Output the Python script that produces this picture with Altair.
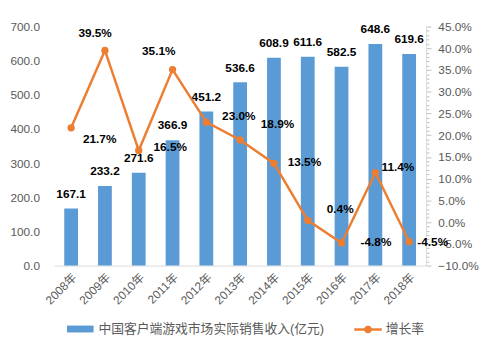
import altair as alt
import pandas as pd

years = ["2008年", "2009年", "2010年", "2011年", "2012年", "2013年",
         "2014年", "2015年", "2016年", "2017年", "2018年"]
revenue = [167.1, 233.2, 271.6, 366.9, 451.2, 536.6, 608.9, 611.6, 582.5, 648.6, 619.6]
growth = [21.7, 39.5, 16.5, 35.1, 23.0, 18.9, 13.5, 0.4, -4.8, 11.4, -4.5]

# label offsets (pixels) for the growth-rate labels, as placed in the original
pct_dx = [29, -10, 32, -14, 33, 38, 31, 33, 35, 23, 24]
pct_dy = [11, -18, -3, -19, -6, -16, -1, -11, -1, -6, 0]

bar_name = "中国客户端游戏市场实际销售收入(亿元)"
line_name = "增长率"

BLUE = "#5B9BD5"
ORANGE = "#ED7D31"
GRAY = "#595959"
FONT = "Liberation Sans, Noto Sans CJK SC"

W, H = 378, 243

df = pd.DataFrame({"year": years, "revenue": revenue, "growth": growth})
df["pct_label"] = [f"{g:.1f}%" for g in growth]
df["rev_label"] = [f"{r:.1f}" for r in revenue]

x = alt.X("year:N", sort=years, title=None,
          scale=alt.Scale(paddingInner=0, paddingOuter=0),
          axis=alt.Axis(labelAngle=-45, labelFontSize=12, labelColor=GRAY,
                        labelFont=FONT, ticks=False, domainColor="#D9D9D9",
                        labelPadding=6))

y_left = alt.Y("revenue:Q", title=None,
               scale=alt.Scale(domain=[0, 700], nice=False),
               axis=alt.Axis(values=[0, 100, 200, 300, 400, 500, 600, 700],
                             format=".1f", grid=False, domain=False, ticks=False,
                             labelPadding=15, labelFontSize=12, labelColor=GRAY,
                             labelFont=FONT))

bars = alt.Chart(df).mark_bar(size=14, color=BLUE).encode(x=x, y=y_left)
bar_text = alt.Chart(df).mark_text(fontWeight="bold", fontSize=12, font=FONT,
                                   color="#000000", dy=-15, baseline="middle").encode(
    x=x, y=y_left, text="rev_label:N")

bar_layer = alt.layer(bars, bar_text)

y_right = alt.Y("growth:Q", title=None,
                scale=alt.Scale(domain=[-10, 45], nice=False),
                axis=alt.Axis(orient="right", values=list(range(-10, 46)),
                              labelExpr="datum.value % 5 === 0 ? format(datum.value, '.1f') + '%' : ''",
                              labelOverlap=False, grid=False,
                              tickSize={"condition": {"test": "datum.value % 5 === 0", "value": 5}, "value": 3},
                              tickColor="#BFBFBF", domainColor="#D9D9D9",
                              labelPadding=7, labelFontSize=12, labelColor=GRAY,
                              labelFont=FONT))

line = alt.Chart(df).mark_line(color=ORANGE, strokeWidth=2.5).encode(x=x, y=y_right)
pts = alt.Chart(df).mark_point(filled=True, color=ORANGE, size=55, opacity=1).encode(
    x=x, y=y_right)

pct_texts = []
for yr, dx, dy in zip(years, pct_dx, pct_dy):
    pct_texts.append(
        alt.Chart(df).transform_filter(alt.datum.year == yr).mark_text(
            fontWeight="bold", fontSize=12, font=FONT, color="#000000",
            dx=dx, dy=dy, baseline="middle", align="center").encode(
            x=x, y=y_right, text="pct_label:N"))

line_layer = alt.layer(line, pts, *pct_texts)

# manual legend
one = alt.Data(values=[{"k": 1}])
leg_rect = alt.Chart(one).mark_rect(color=BLUE).encode(
    x=alt.value(13), x2=alt.value(40), y=alt.value(304), y2=alt.value(311))
leg_text1 = alt.Chart(one).mark_text(align="left", baseline="middle", fontSize=13,
                                     font=FONT, color=GRAY).encode(
    x=alt.value(45), y=alt.value(308), text=alt.value(bar_name))
leg_line = alt.Chart(one).mark_rule(color=ORANGE, strokeWidth=2.5).encode(
    x=alt.value(305), x2=alt.value(333), y=alt.value(308))
leg_pt = alt.Chart(one).mark_point(filled=True, color=ORANGE, size=55, opacity=1).encode(
    x=alt.value(319), y=alt.value(308))
leg_text2 = alt.Chart(one).mark_text(align="left", baseline="middle", fontSize=13,
                                     font=FONT, color=GRAY).encode(
    x=alt.value(337), y=alt.value(308), text=alt.value(line_name))

legend_layer = alt.layer(leg_rect, leg_text1, leg_line, leg_pt, leg_text2)

chart = alt.layer(bar_layer, line_layer, legend_layer).resolve_scale(
    y="independent"
).properties(
    width=W, height=H,
    autosize=alt.AutoSizeParams(type="none"),
    padding={"left": 47, "top": 16, "right": 64, "bottom": 84},
    background="white",
).configure_view(stroke=None)

chart.save("out.html", embed_options={"renderer": "svg", "actions": False})
